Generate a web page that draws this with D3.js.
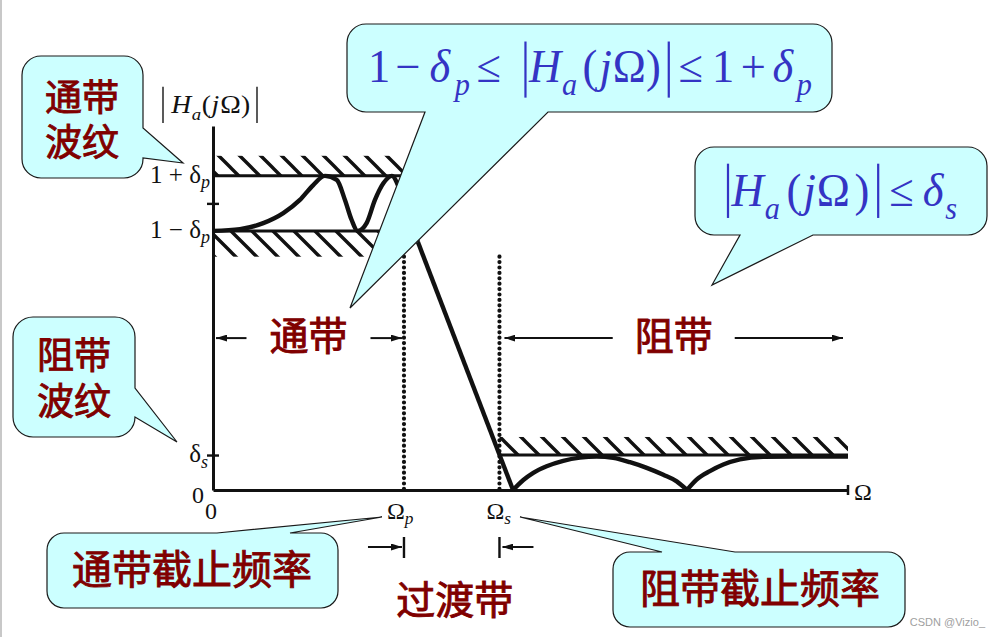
<!DOCTYPE html>
<html>
<head>
<meta charset="utf-8">
<script src="https://cdn.jsdelivr.net/npm/d3@7"></script>
<style>
  body { margin: 0; background: #fff; }
  svg { display: block; }
</style>
</head>
<body>
<svg id="mainsvg" width="1000" height="637"></svg>
<script>
// ---- values (Omega normalised so that Omega_p = 1) ----
const deltaP = 0.096;
const deltaS = 0.122;
const omegaP = 1.0;
const omegaS = 1.5;
const omegaMax = 3.325;
const magTop = 1.27;

// passband ripple
const passOmega = [0, 0.141, 0.263, 0.368, 0.455, 0.525, 0.586, 0.648, 0.691, 0.726, 0.758, 0.805, 0.848, 0.892, 0.936, 0.979, 1.026, 1.073];
const passMag   = [0.904, 0.910, 0.931, 0.966, 1.012, 1.064, 1.096, 1.082, 1.012, 0.942, 0.904, 0.932, 1.012, 1.070, 1.096, 1.047, 0.960, 0.865];
// transition band
const transOmega = [1.073, 1.571];
const transMag   = [0.865, 0];
// stopband lobes
const stop1Omega = [1.571, 1.625, 1.677, 1.747, 1.834, 1.921, 2.009, 2.096, 2.183, 2.271, 2.358, 2.428, 2.482];
const stop1Mag   = [0, 0.035, 0.060, 0.083, 0.102, 0.113, 0.117, 0.112, 0.097, 0.077, 0.053, 0.030, 0];
const stop2Omega = [2.482, 2.532, 2.602, 2.672, 2.759, 2.881, 3.056, 3.325];
const stop2Mag   = [0, 0.036, 0.066, 0.089, 0.107, 0.116, 0.117, 0.117];

// tolerance (hatched) bands: [from, to, low, high]
const hatchFrom = [0, 0, omegaS];
const hatchTo   = [omegaP, omegaP, omegaMax];
const hatchLow  = [1 + deltaP, 1 - deltaP - 0.09, deltaS];
const hatchHigh = [1 + deltaP + 0.07, 1 - deltaP, deltaS + 0.063];

const yTicks = [deltaS, 1];
const dottedTop = 1 - deltaP - 0.09;
const bandLabelMag = 0.53;

const svg = d3.select("#mainsvg");
const maroon = "#800000";
const blue = "#3434c4";
const serif = "'Liberation Serif', 'DejaVu Serif', serif";
const cjk = "'Noto Sans CJK SC', 'Noto Sans', sans-serif";

const x = d3.scaleLinear().domain([0, omegaMax]).range([213, 848]);
const y = d3.scaleLinear().domain([0, magTop]).range([490, 126]);

// left page border
svg.append("line").attr("x1", 1).attr("x2", 1).attr("y1", 0).attr("y2", 637)
  .attr("stroke", "#c8c8c8").attr("stroke-width", 2);

const defs = svg.append("defs");
defs.append("pattern")
  .attr("id", "hatch")
  .attr("patternUnits", "userSpaceOnUse")
  .attr("width", 21).attr("height", 21)
  .append("path")
  .attr("d", "M-2,19 L2,23 M0,0 L21,21 M19,-2 L23,2")
  .attr("stroke", "#111").attr("stroke-width", 3.4);

defs.append("marker")
  .attr("id", "arrowhead")
  .attr("markerUnits", "userSpaceOnUse")
  .attr("markerWidth", 11).attr("markerHeight", 7)
  .attr("refX", 11).attr("refY", 3.5)
  .attr("orient", "auto")
  .append("path")
  .attr("d", "M0,0 L11,3.5 L0,7 Z")
  .style("fill", "#111");

const chart = svg.append("g").attr("id", "chart");

// hatched bands
hatchFrom.forEach((f, i) => {
  chart.append("rect")
    .attr("x", x(f)).attr("width", x(hatchTo[i]) - x(f))
    .attr("y", y(hatchHigh[i])).attr("height", y(hatchLow[i]) - y(hatchHigh[i]))
    .attr("fill", "url(#hatch)");
});

// tolerance lines
[[0, omegaP, 1 + deltaP], [0, omegaP, 1 - deltaP], [omegaS, omegaMax, deltaS]].forEach(d => {
  chart.append("line")
    .attr("x1", x(d[0])).attr("x2", x(d[1]))
    .attr("y1", y(d[2])).attr("y2", y(d[2]))
    .attr("stroke", "#111").attr("stroke-width", 3);
});

// dotted edge lines at Omega_p and Omega_s
[omegaP, omegaS].forEach(o => {
  chart.append("line")
    .attr("x1", x(o)).attr("x2", x(o))
    .attr("y1", y(dottedTop)).attr("y2", y(0))
    .attr("stroke", "#111").attr("stroke-width", 4.2)
    .attr("stroke-linecap", "round")
    .attr("stroke-dasharray", "0 5.4");
});

// axes
const yAxis = chart.append("g")
  .attr("transform", `translate(${x(0)},0)`)
  .call(d3.axisLeft(y).tickValues(yTicks).tickSize(6).tickSizeOuter(0).tickFormat(""));
yAxis.select(".domain").attr("stroke", "#111").attr("stroke-width", 3);
yAxis.selectAll(".tick line").attr("x1", 6).attr("stroke", "#111").attr("stroke-width", 2.4);

const xAxis = chart.append("g")
  .attr("transform", `translate(0,${y(0)})`)
  .call(d3.axisBottom(x).tickValues([]).tickSizeOuter(0));
xAxis.select(".domain").attr("stroke", "#111").attr("stroke-width", 3);
chart.append("line")
  .attr("x1", x(omegaMax)).attr("x2", x(omegaMax))
  .attr("y1", y(0) - 5).attr("y2", y(0) + 5)
  .attr("stroke", "#111").attr("stroke-width", 2.5);

// response curve
const curveLine = (curve) => d3.line()
  .x(d => x(d[0]))
  .y(d => y(d[1]))
  .curve(curve);

const responseParts = [
  [passOmega, passMag, d3.curveMonotoneX],
  [transOmega, transMag, d3.curveLinear],
  [stop1Omega, stop1Mag, d3.curveMonotoneX],
  [stop2Omega, stop2Mag, d3.curveMonotoneX]
];
responseParts.forEach(([om, mag, c]) => {
  chart.append("path")
    .datum(d3.zip(om, mag))
    .attr("d", curveLine(c))
    .attr("fill", "none")
    .attr("stroke", "#111")
    .attr("stroke-width", 4.4)
    .attr("stroke-linejoin", "round");
});

// tick labels
function subLabel(px, py, main, sub, anchor, size) {
  const t = chart.append("text")
    .attr("x", px).attr("y", py)
    .attr("text-anchor", anchor)
    .attr("font-family", serif)
    .attr("font-size", size)
    .attr("fill", "#111");
  t.append("tspan").text(main);
  if (sub) {
    t.append("tspan").attr("font-style", "italic").attr("font-size", size * 0.72).attr("dy", size * 0.22).text(sub);
  }
  return t;
}
subLabel(x(0) - 3, y(1 + deltaP) + 7, "1 + δ", "p", "end", 25);
subLabel(x(0) - 3, y(1 - deltaP) + 7, "1 \u2212 δ", "p", "end", 25);
subLabel(x(0) - 5, y(deltaS) + 7, "δ", "s", "end", 25);
subLabel(x(0) - 9, y(0) + 13, "0", null, "end", 24);
subLabel(x(0) - 2, y(0) + 29, "0", null, "middle", 24);
subLabel(x(omegaP) - 17, y(0) + 29, "Ω", "p", "start", 24);
subLabel(x(omegaS) - 13, y(0) + 29, "Ω", "s", "start", 24);
subLabel(x(omegaMax) + 6, y(0) + 10, "Ω", null, "start", 24);

// laid-out math text, stretched to span [x0, x1]
function drawFormula(g, pieces, size, color, x0, x1, baseline, barTop, barBot) {
  const grp = g.append("g");
  let cx = 0;
  pieces.forEach(p => {
    cx += (p.gap || 0) * size;
    if (p.bar) {
      grp.append("line")
        .attr("x1", cx).attr("x2", cx)
        .attr("y1", -barTop * size).attr("y2", barBot * size)
        .attr("stroke", color).attr("stroke-width", size * 0.05);
      return;
    }
    const fs = p.sub ? size * 0.68 : size;
    const t = grp.append("text")
      .attr("x", cx).attr("y", p.sub ? size * 0.28 : 0)
      .attr("font-family", serif)
      .attr("font-size", fs)
      .attr("font-style", p.it ? "italic" : "normal")
      .attr("fill", color)
      .text(p.t);
    cx += t.node().getComputedTextLength();
  });
  grp.attr("transform", `translate(${x0},${baseline}) scale(${(x1 - x0) / cx},1)`);
}

// y-axis title |Ha(jΩ)|
drawFormula(chart, [
  {bar: true}, {t: "H", it: true, gap: 0.3}, {t: "a", it: true, sub: true, gap: 0.02},
  {t: "(", gap: 0.02}, {t: "j", it: true, gap: 0.02}, {t: "Ω", gap: 0.04}, {t: ")"},
  {bar: true, gap: 0.25}
], 25, "#111", 163, 257, 113, 1.05, 0.4);

// band arrows
function arrow(x1, y1, x2, y2) {
  chart.append("line")
    .attr("x1", x1).attr("y1", y1).attr("x2", x2).attr("y2", y2)
    .attr("stroke", "#111").attr("stroke-width", 2)
    .attr("marker-end", "url(#arrowhead)");
}
const yBand = y(bandLabelMag);
const passMid = (x(0) + x(omegaP)) / 2;
const stopMid = (x(omegaS) + x(omegaMax)) / 2;
arrow(passMid - 62, yBand, x(0) + 3, yBand);
arrow(passMid + 62, yBand, x(omegaP) - 2, yBand);
arrow(stopMid - 61, yBand, x(omegaS) + 5, yBand);
arrow(stopMid + 61, yBand, x(omegaMax) - 5, yBand);

// Chinese labels; several lines go into one text element
function cjkText(g, px, py, lines, size, lineGap) {
  const t = g.append("text")
    .attr("text-anchor", "middle")
    .attr("dominant-baseline", "central")
    .attr("font-family", cjk)
    .attr("font-size", size)
    .attr("fill", maroon)
    .attr("stroke", maroon)
    .attr("stroke-width", 0.9);
  [].concat(lines).forEach((ln, i) => {
    t.append("tspan")
      .attr("x", px)
      .attr("y", py + i * (lineGap || 0))
      .text(ln);
  });
}
cjkText(chart, passMid, yBand - 5, "通带", 39);
cjkText(chart, stopMid, yBand - 5, "阻带", 39);

// transition band marks
const yTrans = 547;
arrow(x(omegaP) - 36, yTrans, x(omegaP) - 2, yTrans);
arrow(x(omegaS) + 34, yTrans, x(omegaS) + 3, yTrans);
[omegaP, omegaS].forEach(o => {
  chart.append("line")
    .attr("x1", x(o)).attr("x2", x(o))
    .attr("y1", yTrans - 10).attr("y2", yTrans + 11)
    .attr("stroke", "#111").attr("stroke-width", 2.4);
});
cjkText(chart, (x(omegaP) + x(omegaS)) / 2 + 3, 597, "过渡带", 39);

// ---- callouts ----
function calloutPath(c) {
  const {x: bx, y: by, w, h, r, side, a, b, tip} = c;
  const p = d3.path();
  p.moveTo(bx + r, by);
  if (side === "top") { p.lineTo(a, by); p.lineTo(tip[0], tip[1]); p.lineTo(b, by); }
  p.lineTo(bx + w - r, by);
  p.arcTo(bx + w, by, bx + w, by + r, r);
  if (side === "right") { p.lineTo(bx + w, a); p.lineTo(tip[0], tip[1]); p.lineTo(bx + w, b); }
  p.lineTo(bx + w, by + h - r);
  p.arcTo(bx + w, by + h, bx + w - r, by + h, r);
  if (side === "bottom") { p.lineTo(b, by + h); p.lineTo(tip[0], tip[1]); p.lineTo(a, by + h); }
  p.lineTo(bx + r, by + h);
  p.arcTo(bx, by + h, bx, by + h - r, r);
  p.lineTo(bx, by + r);
  p.arcTo(bx, by, bx + r, by, r);
  p.closePath();
  return p.toString();
}

const callouts = [
  {x: 22, y: 56, w: 121, h: 122, r: 19, side: "right", a: 128, b: 158, tip: [183, 163]},
  {x: 347, y: 24, w: 485, h: 88, r: 19, side: "bottom", a: 425, b: 548, tip: [350, 308]},
  {x: 695, y: 147, w: 292, h: 88, r: 19, side: "bottom", a: 740, b: 813, tip: [712, 285]},
  {x: 13, y: 317, w: 122, h: 120, r: 20, side: "right", a: 388, b: 417, tip: [177, 442]},
  {x: 47, y: 533, w: 291, h: 75, r: 17, side: "top", a: 217, b: 290, tip: [382, 517]},
  {x: 613, y: 552, w: 292, h: 75, r: 17, side: "top", a: 662, b: 735, tip: [520, 517]}
];
const notes = svg.append("g").attr("id", "callouts");
callouts.forEach(c => {
  notes.append("path")
    .attr("d", calloutPath(c))
    .attr("fill", "#ccffff")
    .attr("stroke", "#1a1a1a")
    .attr("stroke-width", 1.2);
});

cjkText(notes, 82, 95, ["通带", "波纹"], 37, 45);
cjkText(notes, 74, 353, ["阻带", "波纹"], 37, 46);
cjkText(notes, 192, 567, "通带截止频率", 40);
cjkText(notes, 760, 586, "阻带截止频率", 40);

// 1 − δp ≤ |Ha(jΩ)| ≤ 1 + δp
drawFormula(notes, [
  {t: "1"}, {t: "\u2212", gap: 0.12}, {t: "δ", it: true, gap: 0.2}, {t: "p", it: true, sub: true, gap: 0.1},
  {t: "≤", gap: 0.15}, {bar: true, gap: 0.55}, {t: "H", it: true, gap: 0.08}, {t: "a", it: true, sub: true, gap: 0.02},
  {t: "(", gap: 0.12}, {t: "j", it: true, gap: 0.05}, {t: "Ω", gap: 0.02}, {t: ")"},
  {bar: true, gap: 0.18}, {t: "≤", gap: 0.22}, {t: "1", gap: 0.2}, {t: "+", gap: 0.15},
  {t: "δ", it: true, gap: 0.15}, {t: "p", it: true, sub: true, gap: 0.08}
], 46, blue, 368, 812, 82, 0.88, 0.34);

// |Ha(jΩ)| ≤ δs
drawFormula(notes, [
  {bar: true}, {t: "H", it: true, gap: 0.08}, {t: "a", it: true, sub: true, gap: 0.02},
  {t: "(", gap: 0.15}, {t: "j", it: true, gap: 0.05}, {t: "Ω", gap: 0.02}, {t: ")", gap: 0.1},
  {bar: true, gap: 0.2}, {t: "≤", gap: 0.25}, {t: "δ", it: true, gap: 0.2}, {t: "s", it: true, sub: true, gap: 0.04}
], 46, blue, 728, 957, 206, 0.92, 0.26);

// watermark
svg.append("text")
  .attr("x", 985).attr("y", 626)
  .attr("text-anchor", "end")
  .attr("font-family", "'Liberation Sans', Arial, sans-serif")
  .attr("font-size", 11)
  .attr("fill", "#a0a0a0")
  .text("CSDN @Vizio_");
</script>
</body>
</html>
